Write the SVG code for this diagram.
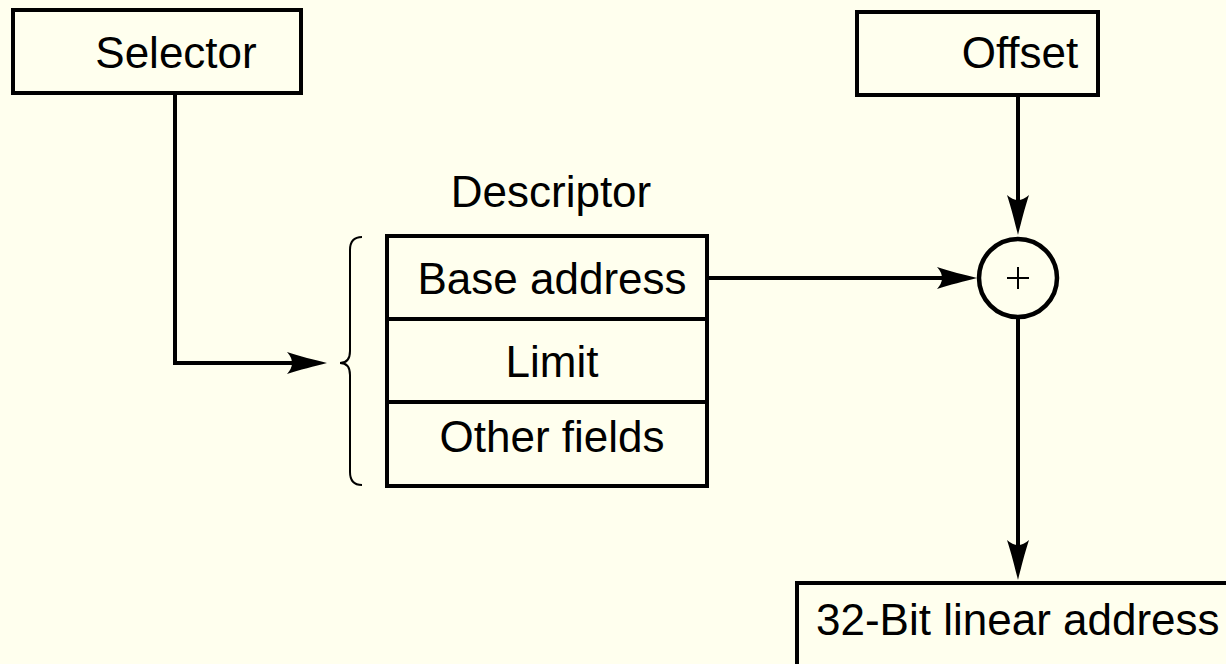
<svg xmlns="http://www.w3.org/2000/svg" width="1226" height="664" viewBox="0 0 1226 664">
<style>
.box{fill:#ffffee;stroke:#000;stroke-width:4}
.t{font-family:"Liberation Sans",Arial,sans-serif;font-size:44px;fill:#000}
.c{text-anchor:middle}
.con{fill:none;stroke:#000;stroke-width:4}
.thin{fill:none;stroke:#000;stroke-width:2}
</style>
<defs>
<marker id="ah" markerUnits="userSpaceOnUse" orient="auto" viewBox="-42 -12 44 24" markerWidth="44" markerHeight="24" refX="-20" refY="0">
<path d="M0,0 C-12,-3 -28,-7 -40,-11 Q-30,0 -40,11 C-28,7 -12,3 0,0 Z" fill="#000"/>
</marker>
</defs>
<rect width="1226" height="664" fill="#ffffee"/>
<g id="selector">
<rect class="box" x="13" y="10" width="288" height="83"/>
<text class="t c" x="176" y="68">Selector</text>
</g>
<g id="offset">
<rect class="box" x="857" y="12" width="241" height="83"/>
<text class="t c" x="1020" y="68">Offset</text>
</g>
<g id="descriptor">
<text class="t c" x="551" y="207">Descriptor</text>
<path class="thin" d="M362,237 Q350,237 350,250 L350,351 Q350,363 340,363 Q350,363 350,375 L350,472 Q350,485 362,485"/>
<rect class="box" x="387" y="236" width="320" height="250"/>
<line class="con" x1="387" y1="319" x2="707" y2="319"/>
<line class="con" x1="387" y1="402" x2="707" y2="402"/>
<text class="t c" x="552" y="294">Base address</text>
<text class="t c" x="552" y="377">Limit</text>
<text class="t c" x="552" y="452">Other fields</text>
</g>
<g id="adder">
<circle cx="1018" cy="278" r="39" fill="#ffffee" stroke="#000" stroke-width="4.5"/>
<path class="thin" d="M1007,278 H1029 M1018,267 V289"/>
</g>
<g id="linear">
<rect class="box" x="797" y="583" width="500" height="200"/>
<text class="t" x="816" y="635">32-Bit linear address</text>
</g>
<g id="connectors">
<path class="con" d="M175,93 V363 H307" marker-end="url(#ah)"/>
<path class="con" d="M707,278 H957" marker-end="url(#ah)"/>
<path class="con" d="M1018,95 V215" marker-end="url(#ah)"/>
<path class="con" d="M1018,317 V560" marker-end="url(#ah)"/>
</g>
</svg>
